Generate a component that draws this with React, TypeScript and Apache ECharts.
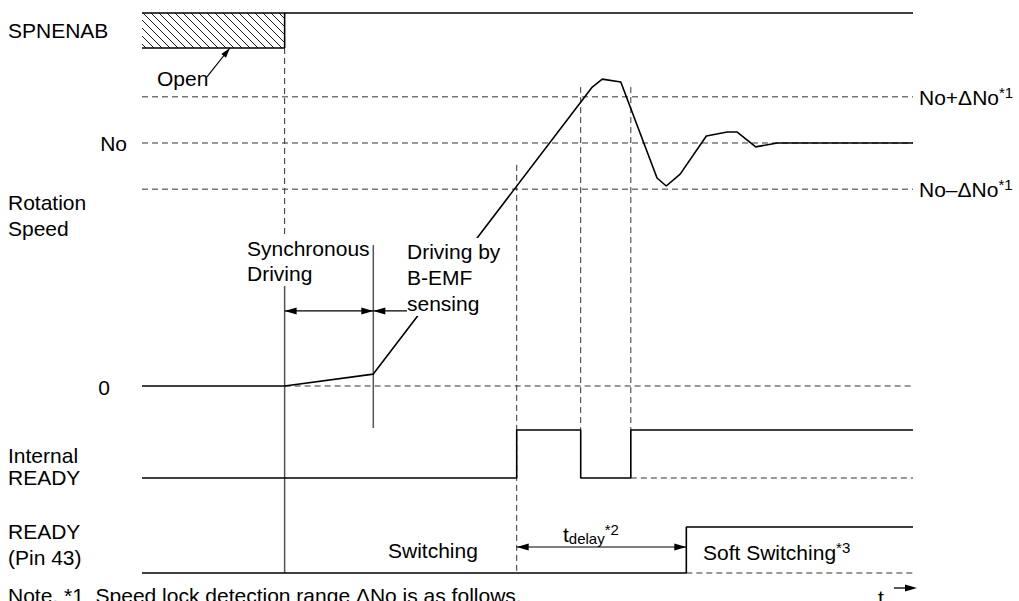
import React, { useEffect, useRef } from "react";
import * as echarts from "echarts";

// ---------------- data ----------------
// time: percent of the trace width (0 = start, 100 = end)
// speed: in units of the target speed No
const speedTime = [0, 18.5, 30, 58.4, 59.7, 62.1, 66.8, 68.0, 69.8, 73.2, 75.9, 77.2, 79.6, 82.4, 100];
const speedValue = [0, 0, 0.049, 1.23, 1.263, 1.251, 0.856, 0.823, 0.872, 1.029, 1.045, 1.045, 0.984, 1.0, 1.0];
const speedLevels = [1.19, 1.0, 0.81]; // No+ΔNo, No, No−ΔNo

const spnenabOpenTime = [0, 18.5];
const spnenabTime = [18.5, 18.5, 100];
const spnenabValue = [0, 1, 1];

const internalReadyTime = [0, 48.6, 48.6, 56.9, 56.9, 63.4, 63.4, 100];
const internalReadyValue = [0, 0, 1, 1, 0, 0, 1, 1];

const readyTime = [0, 70.6, 70.6, 100];
const readyValue = [0, 0, 1, 1];

// event times: sync start, B-EMF start, internal ready on, lock lost, lock back, READY pin on
const eventTime = [18.5, 30, 48.6, 56.9, 63.4, 70.6];

// ---------------- layout (y-axis units 0..100) ----------------
const LANE_SPN = [93.75, 100];
const LANE_IR = [16.964, 25.536];
const LANE_RD = [0, 8.214];
const SPEED_ZERO = 33.393;
const SPEED_UNIT = 43.393;
const sy = (v: number) => SPEED_ZERO + v * SPEED_UNIT;
const ly = (lane: number[], v: number) => lane[0] + v * (lane[1] - lane[0]);

const FONT = '"Liberation Sans", Arial, Helvetica, sans-serif';

export default function App() {
  const ref = useRef<HTMLDivElement>(null);

  useEffect(() => {
    document.body.style.margin = "0";
    const chart = echarts.init(ref.current!, undefined, { renderer: "svg" });
    const [tSync, tBemf, tIr, tLost, tBack, tRd] = eventTime;

    const dashed: number[][] = [
      ...speedLevels.map((l) => [0, sy(l), 100, sy(l)]),
      [tSync, sy(0), 100, sy(0)],
      [tBack, LANE_IR[0], 100, LANE_IR[0]],
      [tRd, LANE_RD[0], 100, LANE_RD[0]],
      [tSync, LANE_SPN[0], tSync, sy(0.416)],
      [tIr, sy(0.91), tIr, LANE_RD[0]],
      [tLost, sy(1.23), tLost, LANE_IR[1]],
      [tBack, sy(1.23), tBack, LANE_IR[1]],
    ];
    const solidGuides: number[][] = [
      [tSync, sy(0.416), tSync, LANE_RD[0]],
      [tBemf, sy(0.58), tBemf, sy(-0.173)],
    ];
    // [x1, y1, x2, y2, headAtStart, headAtEnd, headLen, headWidth]
    const arrows: number[][] = [
      [tSync, sy(0.309), tBemf, sy(0.309), 1, 1, 12, 7],
      [34.5, sy(0.309), tBemf, sy(0.309), 0, 1, 12, 7],
      [tIr, ly(LANE_RD, 0.565), tRd, ly(LANE_RD, 0.565), 1, 1, 12, 7],
      [8.4, ly(LANE_SPN, -0.83), 11.4, LANE_SPN[0], 0, 1, 10, 6],
    ];

    const lineRender = (color: string, width: number, dash: any) => (params: any, api: any) => {
      const p1 = api.coord([api.value(0), api.value(1)]);
      const p2 = api.coord([api.value(2), api.value(3)]);
      return {
        type: "line",
        shape: { x1: p1[0], y1: p1[1], x2: p2[0], y2: p2[1] },
        style: { stroke: color, lineWidth: width, lineDash: dash, fill: null },
      };
    };

    const head = (tip: number[], from: number[], L: number, W: number) => {
      const dx = tip[0] - from[0];
      const dyv = tip[1] - from[1];
      const len = Math.hypot(dx, dyv) || 1;
      const ux = dx / len, uy = dyv / len;
      const bx = tip[0] - ux * L, by = tip[1] - uy * L;
      const nx = -uy * (W / 2), ny = ux * (W / 2);
      return {
        type: "polygon",
        shape: { points: [tip, [bx + nx, by + ny], [bx - nx, by - ny]] },
        style: { fill: "#000", stroke: null },
      };
    };

    const sig = (name: string, data: number[][], color = "#000", width = 1.6) => ({
      type: "line",
      name,
      data,
      symbol: "none",
      clip: false,
      silent: true,
      lineStyle: { color, width },
      z: 5,
    });

    const txt = (text: string, x: number, y: number, extra: any = {}) => ({
      type: "text",
      x,
      y,
      z: 100,
      silent: true,
      style: {
        text,
        fill: "#000",
        fontSize: 21,
        fontFamily: FONT,
        align: "left",
        verticalAlign: "middle",
        ...extra,
      },
    });

    const supRich = {
      m: { fontSize: 21, fontFamily: FONT, lineHeight: 24, fill: "#000" },
      s: { fontSize: 15, fontFamily: FONT, lineHeight: 16, verticalAlign: "top", fill: "#000" },
      b: { fontSize: 15, fontFamily: FONT, lineHeight: 15, verticalAlign: "bottom", fill: "#000" },
    };

    chart.setOption({
      animation: false,
      grid: { left: 142, right: 106, top: 13, bottom: 28, show: false },
      xAxis: { type: "value", min: 0, max: 100, show: false },
      yAxis: { type: "value", min: 0, max: 100, show: false },
      series: [
        {
          type: "custom",
          name: "dashedGuides",
          coordinateSystem: "cartesian2d",
          encode: { x: [0, 2], y: [1, 3] },
          data: dashed,
          renderItem: lineRender("#333", 1, [6, 4]),
          silent: true,
          z: 2,
        },
        {
          type: "custom",
          name: "solidGuides",
          coordinateSystem: "cartesian2d",
          encode: { x: [0, 2], y: [1, 3] },
          data: solidGuides,
          renderItem: lineRender("#555", 1.5, null),
          silent: true,
          z: 3,
        },
        {
          type: "custom",
          name: "hatch",
          coordinateSystem: "cartesian2d",
          data: [[spnenabOpenTime[0], 0]],
          silent: true,
          z: 4,
          renderItem: (params: any, api: any) => {
            const p0 = api.coord([spnenabOpenTime[0], LANE_SPN[1]]);
            const p1 = api.coord([spnenabOpenTime[1], LANE_SPN[0]]);
            const x0 = p0[0], y0 = p0[1], x1 = p1[0], y1 = p1[1];
            const w = x1 - x0, h = y1 - y0;
            const children: any[] = [];
            for (let k = -h + 4; k < w; k += 8) {
              const sx = k >= 0 ? x0 + k : x0;
              const syy = k >= 0 ? y0 : y0 - k;
              const ex = k + h <= w ? x0 + k + h : x1;
              const ey = k + h <= w ? y1 : y0 + (w - k);
              children.push({
                type: "line",
                shape: { x1: sx, y1: syy, x2: ex, y2: ey },
                style: { stroke: "#000", lineWidth: 0.9 },
              });
            }
            return { type: "group", children };
          },
        },
        sig("SPNENAB open top", [[spnenabOpenTime[0], LANE_SPN[1]], [spnenabOpenTime[1], LANE_SPN[1]]]),
        sig("SPNENAB open bottom", [[spnenabOpenTime[0], LANE_SPN[0]], [spnenabOpenTime[1], LANE_SPN[0]]]),
        sig("SPNENAB", spnenabTime.map((t, i) => [t, ly(LANE_SPN, spnenabValue[i])])),
        sig("Rotation Speed", speedTime.map((t, i) => [t, sy(speedValue[i])])),
        sig("Internal READY", internalReadyTime.map((t, i) => [t, ly(LANE_IR, internalReadyValue[i])])),
        sig("READY", readyTime.map((t, i) => [t, ly(LANE_RD, readyValue[i])])),
        {
          type: "custom",
          name: "arrows",
          coordinateSystem: "cartesian2d",
          encode: { x: [0, 2], y: [1, 3] },
          data: arrows,
          silent: true,
          z: 6,
          renderItem: (params: any, api: any) => {
            const p1 = api.coord([api.value(0), api.value(1)]);
            const p2 = api.coord([api.value(2), api.value(3)]);
            const L = api.value(6), W = api.value(7);
            const children: any[] = [
              {
                type: "line",
                shape: { x1: p1[0], y1: p1[1], x2: p2[0], y2: p2[1] },
                style: { stroke: "#000", lineWidth: 1.2 },
              },
            ];
            if (api.value(4)) children.push(head(p1, p2, L, W));
            if (api.value(5)) children.push(head(p2, p1, L, W));
            return { type: "group", children };
          },
        },
      ],
      graphic: [
        txt("SPNENAB", 8, 30),
        txt("Open", 157, 78),
        txt("No", 127, 143, { align: "right" }),
        txt("Rotation\nSpeed", 8, 215, { lineHeight: 26 }),
        txt("Synchronous\nDriving", 247, 261, { lineHeight: 25, backgroundColor: "#fff" }),
        txt("Driving by\nB-EMF\nsensing", 407, 277, { lineHeight: 26, backgroundColor: "#fff" }),
        txt("0", 110, 387, { align: "right" }),
        txt("Internal\nREADY", 8, 466, { lineHeight: 22 }),
        txt("READY\n(Pin 43)", 8, 544, { lineHeight: 26 }),
        txt("Switching", 388, 550),
        txt("{m|t}{b|delay}{s|*2}", 563, 534, { rich: supRich }),
        txt("{m|Soft Switching}{s|*3}", 703, 552, { rich: supRich }),
        txt("{m|No+ΔNo}{s|*1}", 919, 97, { rich: supRich }),
        txt("{m|No–ΔNo}{s|*1}", 919, 189, { rich: supRich }),
        txt("t", 878, 597),
        {
          type: "line",
          z: 100,
          silent: true,
          shape: { x1: 894, y1: 588, x2: 906, y2: 588 },
          style: { stroke: "#000", lineWidth: 1.3 },
        },
        {
          type: "polygon",
          z: 100,
          silent: true,
          shape: { points: [[917, 588], [905, 584.5], [905, 591.5]] },
          style: { fill: "#000" },
        },
        txt("Note. *1  Speed lock detection range ΔNo is as follows.", 8, 585, { verticalAlign: "top" }),
      ],
    });

    return () => chart.dispose();
  }, []);

  return <div ref={ref} style={{ width: 1019, height: 601 }} />;
}
